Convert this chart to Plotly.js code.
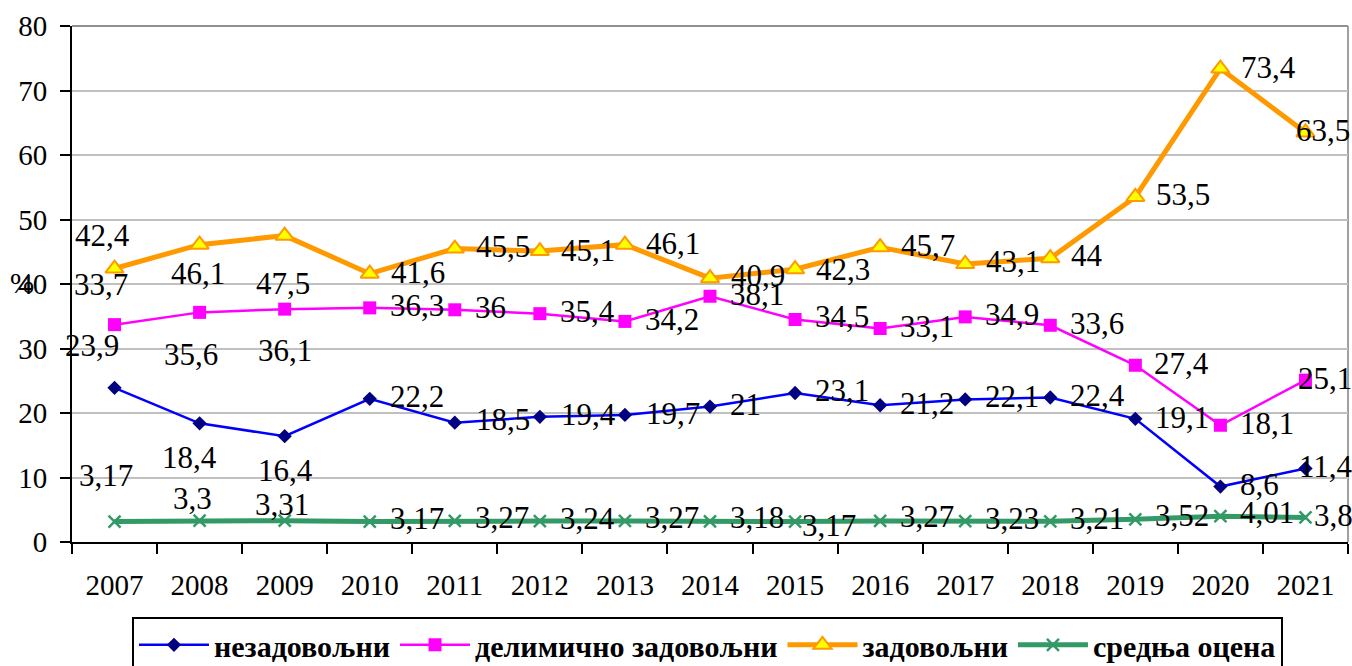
<!DOCTYPE html>
<html>
<head>
<meta charset="utf-8">
<script src="https://cdn.plot.ly/plotly-3.0.1.min.js"></script>
<style>html,body{margin:0;padding:0;background:#fff;}#chart{width:1352px;height:666px;}</style>
</head>
<body>
<div id="chart"></div>
<script>
// ---- data ----
var years = ['2007','2008','2009','2010','2011','2012','2013','2014','2015','2016','2017','2018','2019','2020','2021'];
var nezadovoljni = [23.9, 18.4, 16.4, 22.2, 18.5, 19.4, 19.7, 21, 23.1, 21.2, 22.1, 22.4, 19.1, 8.6, 11.4];
var delimicno = [33.7, 35.6, 36.1, 36.3, 36, 35.4, 34.2, 38.1, 34.5, 33.1, 34.9, 33.6, 27.4, 18.1, 25.1];
var zadovoljni = [42.4, 46.1, 47.5, 41.6, 45.5, 45.1, 46.1, 40.9, 42.3, 45.7, 43.1, 44, 53.5, 73.4, 63.5];
var srednja = [3.17, 3.3, 3.31, 3.17, 3.27, 3.24, 3.27, 3.18, 3.17, 3.27, 3.23, 3.21, 3.52, 4.01, 3.8];
var seriesNames = ['незадовољни', 'делимично задовољни', 'задовољни', 'средња оцена'];
var yTitle = '%';

// ---- label offsets in pixels [left-edge dx, center dy (down +)] ----
var offBlue = [[-51,-40],[-39,36],[-28,36],[19,0],[20,-1],[20,0],[20,1],[19,0],[19,-1],[19,0],[19,-1],[19,0],[19,1],[19,0],[-7,0]];
var offMag = [[-42,-38],[-37,44],[-28,43],[19,0],[19,0],[19,0],[19,0],[19,0],[19,-1],[19,0],[19,0],[19,0],[18,0],[19,0],[-8,0]];
var offOr = [[-41,-31],[-30,31],[-30,50],[20,1],[20,0],[20,1],[20,1],[20,-1],[20,2],[20,0],[20,-1],[20,-1],[20,0],[20,1],[-10,0]];
var offGr = [[-37,-44],[-28,-20],[-31,-14],[19,-1],[19,-1],[19,-1],[19,-1],[19,-2],[6,6],[19,-2],[19,-1],[19,-1],[19,-2],[19,-2],[8,0]];

var FONT = 'Liberation Serif';
var FS = 29;
var LFS = 31;

var traces = [
  {x: years, y: nezadovoljni, name: seriesNames[0], type: 'scatter', mode: 'lines+markers',
   line: {color: '#0000FF', width: 2.5},
   marker: {symbol: 'diamond', size: 11, color: '#000080', line: {width: 0}}},
  {x: years, y: delimicno, name: seriesNames[1], type: 'scatter', mode: 'lines+markers',
   line: {color: '#FF00FF', width: 2.5},
   marker: {symbol: 'square', size: 13, color: '#FF00FF', line: {width: 0}}},
  {x: years, y: zadovoljni, name: seriesNames[2], type: 'scatter', mode: 'lines+markers',
   line: {color: '#FF9900', width: 5},
   marker: {symbol: 'triangle-up', size: 16, color: '#FFFF00', line: {color: '#FF9900', width: 2}}},
  {x: years, y: srednja, name: seriesNames[3], type: 'scatter', mode: 'lines+markers',
   line: {color: '#339966', width: 5},
   marker: {symbol: 'x-thin', size: 12, color: '#339966', line: {color: '#339966', width: 2.5}}}
];

function fmt(v) { return String(v).replace('.', ','); }

var annotations = [];
function addLabels(vals, offs) {
  for (var i = 0; i < vals.length; i++) {
    annotations.push({
      x: i, y: vals[i], xref: 'x', yref: 'y',
      text: fmt(vals[i]), showarrow: false,
      xanchor: 'left', yanchor: 'middle',
      xshift: offs[i][0] - 1, yshift: -offs[i][1] + 2,
      font: {family: FONT, size: LFS, color: '#000'}
    });
  }
}
addLabels(nezadovoljni, offBlue);
addLabels(delimicno, offMag);
addLabels(zadovoljni, offOr);
addLabels(srednja, offGr);

annotations.push({
  x: -0.039, xref: 'paper', y: 40.15, yref: 'y', text: yTitle, showarrow: false,
  xanchor: 'center', yanchor: 'middle',
  font: {family: FONT, size: FS, color: '#000'}
});

var layout = {
  width: 1352, height: 666,
  margin: {l: 72, r: 4, t: 26, b: 124, autoexpand: false},
  paper_bgcolor: '#ffffff', plot_bgcolor: '#ffffff',
  font: {family: FONT, size: FS, color: '#000'},
  showlegend: true,
  legend: {
    orientation: 'h', x: 0.047, xanchor: 'left', y: -0.145, yanchor: 'top',
    bordercolor: '#000', borderwidth: 2, bgcolor: '#fff',
    font: {family: FONT, size: 30, color: '#000', weight: 'bold'},
    itemwidth: 70
  },
  xaxis: {
    type: 'category', range: [-0.5, 14.5], tickson: 'boundaries',
    ticks: 'outside', ticklen: 10, tickwidth: 2, tickcolor: '#000',
    showline: true, linecolor: '#000', linewidth: 2, showgrid: false, zeroline: false,
    ticklabelstandoff: 16,
    tickfont: {family: FONT, size: FS, color: '#000'}, fixedrange: true
  },
  yaxis: {
    range: [0, 80], dtick: 10, tick0: 0,
    ticks: 'outside', ticklen: 10, tickwidth: 2, tickcolor: '#000',
    showline: true, linecolor: '#000', linewidth: 2,
    showgrid: true, gridcolor: '#c0c0c0', gridwidth: 2, zeroline: false,
    ticklabelstandoff: 7,
    tickfont: {family: FONT, size: FS, color: '#000'}, fixedrange: true
  },
  shapes: [
    {type: 'line', xref: 'paper', yref: 'paper', x0: 1, x1: 1, y0: 0, y1: 1, line: {color: '#a0a0a0', width: 2}, layer: 'below'},
    {type: 'line', xref: 'paper', yref: 'paper', x0: 0, x1: 1, y0: 1, y1: 1, line: {color: '#909090', width: 2}, layer: 'below'}
  ],
  annotations: annotations
};

Plotly.newPlot('chart', traces, layout, {displayModeBar: false, staticPlot: true});
</script>
</body>
</html>
